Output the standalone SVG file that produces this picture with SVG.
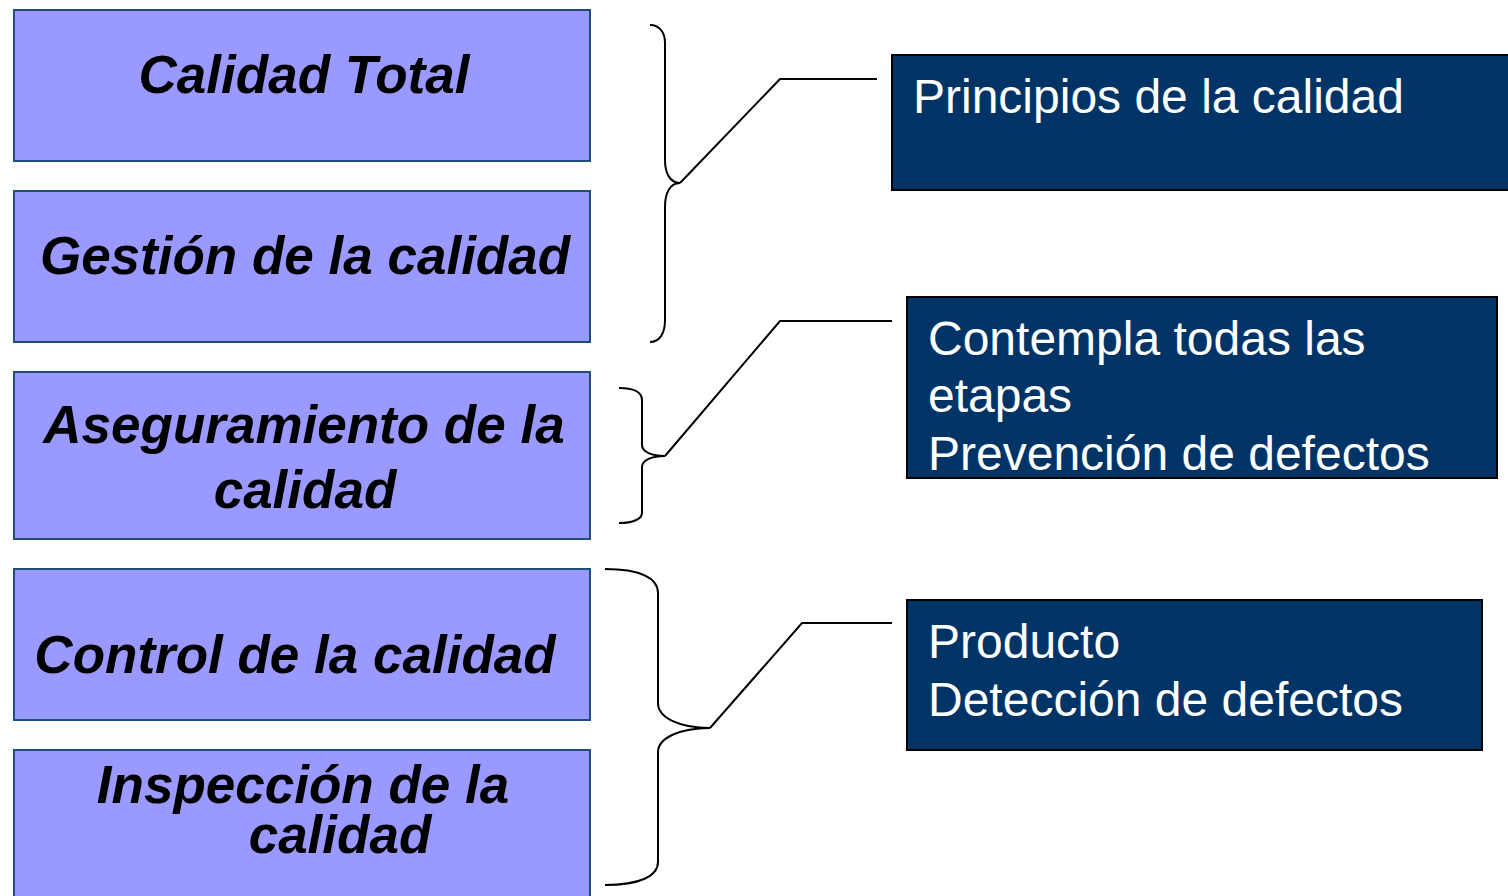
<svg xmlns="http://www.w3.org/2000/svg" width="1508" height="896" viewBox="0 0 1508 896">
<style>
.lbox{fill:#9999ff;stroke:#1f4e79;stroke-width:2}
.rbox{fill:#003366;stroke:#000000;stroke-width:2}
.lt{font-family:"Liberation Sans",Arial,sans-serif;font-size:53px;font-weight:bold;font-style:italic;fill:#000;text-anchor:middle}
.rt{font-family:"Liberation Sans",Arial,sans-serif;font-size:48px;fill:#ffffff}
.ln{fill:none;stroke:#000;stroke-width:2;stroke-linejoin:miter}
</style>
<rect width="1508" height="896" fill="#ffffff"/>
<g id="calidad-total"><rect class="lbox" x="14" y="10" width="576" height="151"/><text class="lt" x="304" y="93">Calidad Total</text></g>
<g id="gestion"><rect class="lbox" x="14" y="191" width="576" height="151"/><text class="lt" x="305" y="274">Gestión de la calidad</text></g>
<g id="aseguramiento"><rect class="lbox" x="14" y="372" width="576" height="167"/><text class="lt" x="304" y="443">Aseguramiento de la</text><text class="lt" x="305" y="508">calidad</text></g>
<g id="control"><rect class="lbox" x="14" y="569" width="576" height="151"/><text class="lt" x="295" y="673">Control de la calidad</text></g>
<g id="inspeccion"><rect class="lbox" x="14" y="750" width="576" height="160"/><text class="lt" x="303" y="803">Inspección de la</text><text class="lt" x="340" y="853">calidad</text></g>
<g id="principios"><rect class="rbox" x="892" y="55" width="620" height="135"/><text class="rt" x="913" y="113">Principios de la calidad</text></g>
<g id="contempla"><rect class="rbox" x="907" y="297" width="590" height="181"/><text class="rt" x="928" y="355">Contempla todas las</text><text class="rt" x="928" y="412">etapas</text><text class="rt" x="928" y="470">Prevención de defectos</text></g>
<g id="producto"><rect class="rbox" x="907" y="600" width="575" height="150"/><text class="rt" x="928" y="658">Producto</text><text class="rt" x="928" y="716">Detección de defectos</text></g>
<g id="connectors">
<path class="ln" d="M650,25 C660,25 665,33 665,43 V160 C665,173 670,183 680,183 C670,183 665,193 665,207 V320 C665,333 660,342 650,342"/>
<path class="ln" d="M680,183 L780,79 L877,79"/>
<path class="ln" d="M619,388 C633,388 642,392 642,400 V445 C642,452 652,456 665,456 C652,456 642,460 642,467 V513 C642,519 633,523 619,523"/>
<path class="ln" d="M665,456 L780,321 L892,321"/>
<path class="ln" d="M605,569 C640,569 658,578 658,593 V703 C658,718 680,728 710,728 C680,728 658,738 658,752 V862 C658,876 640,885 605,885"/>
<path class="ln" d="M710,728 L802,623 L892,623"/>
</g>
</svg>
